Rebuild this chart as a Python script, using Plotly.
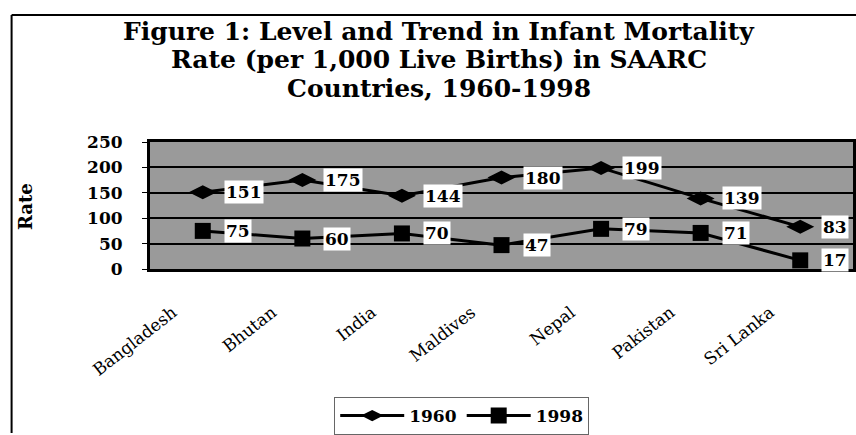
import plotly.graph_objects as go

countries = ["Bangladesh", "Bhutan", "India", "Maldives", "Nepal", "Pakistan", "Sri Lanka"]
imr_1960 = [151, 175, 144, 180, 199, 139, 83]
imr_1998 = [75, 60, 70, 47, 79, 71, 17]
y_ticks = [0, 50, 100, 150, 200, 250]
title_lines = [
    "Figure 1: Level and Trend in Infant Mortality",
    "Rate (per 1,000 Live Births) in SAARC",
    "Countries, 1960-1998",
]

FONT = "DejaVu Serif"
W, H = 856, 435
ML, MR, MT, MB = 150, 0, 142, 163
PW, PH = W - ML - MR, H - MT - MB

def px_x(x):
    return (x - ML) / PW

def px_y(y):
    return (H - MB - y) / PH

fig = go.Figure()
fig.add_trace(go.Scatter(
    x=countries, y=imr_1960, name="1960", mode="lines+markers",
    line=dict(color="black", width=3),
    marker=dict(symbol="diamond-wide", size=20, color="black"),
    cliponaxis=False,
))
fig.add_trace(go.Scatter(
    x=countries, y=imr_1998, name="1998", mode="lines+markers",
    line=dict(color="black", width=3),
    marker=dict(symbol="square", size=16, color="black"),
    cliponaxis=False,
))

for series in (imr_1960, imr_1998):
    for c, v in zip(countries, series):
        fig.add_annotation(
            x=c, y=v, text=str(v), showarrow=False,
            xanchor="left", yanchor="middle", xshift=21,
            bgcolor="white", borderpad=1,
            font=dict(family=FONT, size=17, color="black", weight="bold"),
        )

for line, yc in zip(title_lines, [29, 58, 87]):
    fig.add_annotation(
        xref="paper", yref="paper", x=px_x(440), y=px_y(yc),
        xanchor="center", yanchor="middle", showarrow=False,
        text=line,
        font=dict(family=FONT, size=25, color="black", weight="bold"),
    )

fig.add_annotation(
    xref="paper", yref="paper", x=px_x(25), y=px_y(208),
    xanchor="center", yanchor="middle", showarrow=False, textangle=-90,
    text="Rate", font=dict(family=FONT, size=18, color="black", weight="bold"),
)

# outer frame
fig.add_shape(type="line", xref="paper", yref="paper",
              x0=px_x(11), x1=px_x(11), y0=px_y(12), y1=px_y(440),
              line=dict(color="black", width=2))
fig.add_shape(type="line", xref="paper", yref="paper",
              x0=px_x(11), x1=px_x(860), y0=px_y(12), y1=px_y(12),
              line=dict(color="black", width=2))

fig.update_layout(
    width=W, height=H, autosize=False,
    margin=dict(l=ML, r=MR, t=MT, b=MB),
    paper_bgcolor="white", plot_bgcolor="#9a9a9a",
    font=dict(family=FONT, color="black"),
    showlegend=True,
    legend=dict(
        orientation="h", x=px_x(335), y=px_y(404), xanchor="left", yanchor="top",
        bordercolor="#666", borderwidth=1, bgcolor="white",
        itemwidth=64, tracegroupgap=0,
        font=dict(family=FONT, size=17, weight="bold"),
    ),
    xaxis=dict(
        type="category", range=[-0.53, 6.53],
        showgrid=False, showline=True, linecolor="black", linewidth=3, mirror=True,
        tickangle=-38, tickfont=dict(family=FONT, size=17),
        ticks="", ticklabelshift=-30, ticklabelstandoff=24,
    ),
    yaxis=dict(
        range=[0, 250], tickvals=y_ticks,
        showgrid=True, gridcolor="black", gridwidth=2,
        showline=True, linecolor="black", linewidth=3, mirror=True,
        ticks="outside", ticklen=5, tickcolor="black",
        ticklabelstandoff=16,
        tickfont=dict(family=FONT, size=17, weight="bold"),
    ),
)

fig.write_html(
    "out.html",
    config={"displayModeBar": False},
    post_script="document.body.style.margin='0';document.body.style.overflow='hidden';",
)
